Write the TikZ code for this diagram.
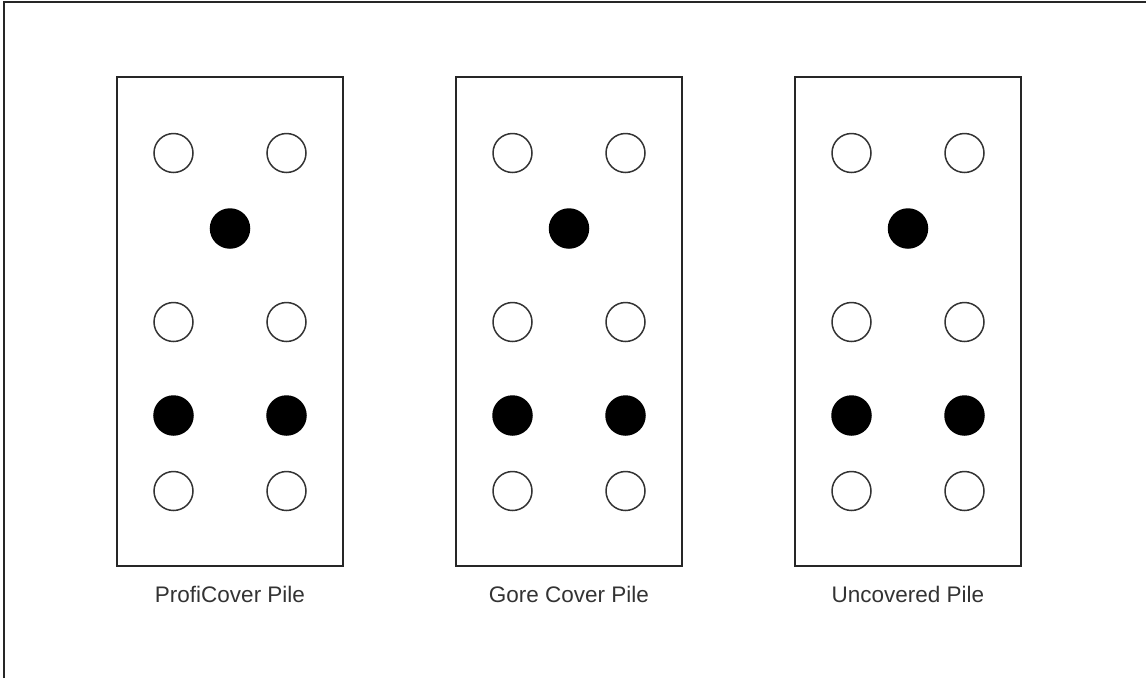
\documentclass[tikz,border=0pt]{standalone}
\usepackage{fontspec}
\setmainfont{Liberation Sans}
\begin{document}
\begin{tikzpicture}[x=1pt,y=-1pt,
  pilebox/.style={draw=black!85,line width=1.8pt,minimum width=226pt,minimum height=489pt,inner sep=0pt},
  holeopen/.style={circle,draw=black!80,line width=1.5pt,fill=white,minimum size=39pt,inner sep=0pt},
  holefull/.style={circle,draw=black,line width=1.5pt,fill=black,minimum size=39pt,inner sep=0pt},
  caption/.style={font=\fontsize{22.5pt}{26pt}\selectfont,text=black!80,inner sep=0pt}]
\useasboundingbox (0,0) rectangle (1146,678);
\coordinate (fa) at (4,678);
\coordinate (fb) at (4,2);
\coordinate (fc) at (1146,2);
\draw[line width=2pt,black!85] (fa) -- (fb) -- (fc);
\foreach \i/\x/\t in {1/230/ProfiCover Pile, 2/569/Gore Cover Pile, 3/908/Uncovered Pile}{
  \node[pilebox] (box\i) at (\x,321.5) {};
  \node[holeopen] (a\i) at (\x-56.5,153) {};
  \node[holeopen] (b\i) at (\x+56.5,153) {};
  \node[holefull] (c\i) at (\x,228.5) {};
  \node[holeopen] (d\i) at (\x-56.5,322) {};
  \node[holeopen] (e\i) at (\x+56.5,322) {};
  \node[holefull] (f\i) at (\x-56.5,415.5) {};
  \node[holefull] (g\i) at (\x+56.5,415.5) {};
  \node[holeopen] (h\i) at (\x-56.5,491) {};
  \node[holeopen] (k\i) at (\x+56.5,491) {};
  \node[caption] (lab\i) at (\x,594) {\t};
}
\end{tikzpicture}
\end{document}
